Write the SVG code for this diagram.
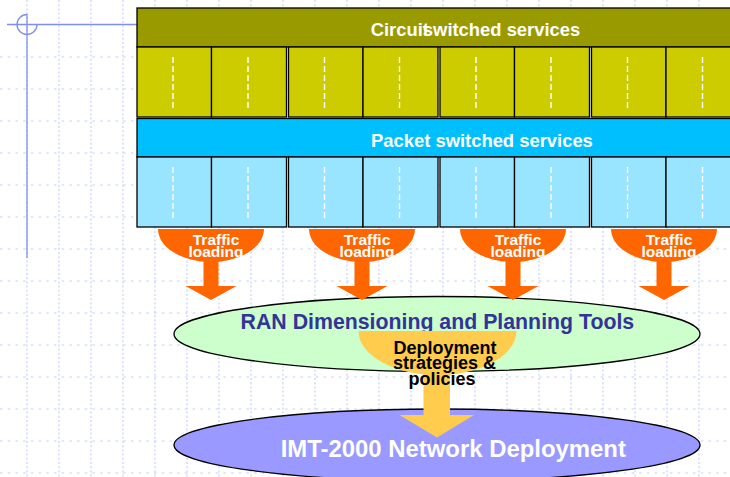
<svg xmlns="http://www.w3.org/2000/svg" width="730" height="477" viewBox="0 0 730 477">
  <defs>
    <style>
      .grid line { stroke: #c5cff8; stroke-width: 1.2; }
      .grid .v { stroke-dasharray: 2 2.2; }
      .grid .h { stroke-dasharray: 2.6 5.1; }
      .guide { stroke: #7f8ff0; stroke-width: 1.3; fill: none; }
      .bar { stroke: #000; stroke-width: 1.3; }
      .cs-bar { fill: #999900; }
      .ps-bar { fill: #00bfff; }
      .cs-cell { fill: #cccc00; stroke: #000; stroke-width: 1.3; }
      .ps-cell { fill: #99e5ff; stroke: #000; stroke-width: 1.3; }
      .slot { stroke: #fff; stroke-width: 1.4; stroke-dasharray: 6 3; }
      .lbl { font-family: "Liberation Sans", Arial, Helvetica, sans-serif; font-weight: bold; }
      .traffic { fill: #ff6600; }
      .policy { fill: #ffcc4d; }
      .ellipse { stroke: #000; stroke-width: 1.3; }
    </style>
    <!-- one carrier: two cells with a dashed slot line in each -->
    <g id="cs-carrier">
      <rect class="cs-cell" x="0" y="0" width="74.5" height="70"/>
      <rect class="cs-cell" x="74.5" y="0" width="75" height="70"/>
      <line class="slot" x1="36" y1="10" x2="36" y2="62"/>
      <line class="slot" x1="111" y1="10" x2="111" y2="62"/>
    </g>
    <g id="ps-carrier">
      <rect class="ps-cell" x="0" y="0" width="74.5" height="70"/>
      <rect class="ps-cell" x="74.5" y="0" width="75" height="70"/>
      <line class="slot" x1="36" y1="10" x2="36" y2="61"/>
      <line class="slot" x1="111" y1="10" x2="111" y2="61"/>
    </g>
    <!-- traffic loading block arrow, centred on x=0 -->
    <g id="traffic-arrow">
      <path class="traffic" d="M-53,229 A53,33 0 0 0 53,229 Z"/>
      <path class="traffic" d="M-7.5,260 H7.5 V286 H25.5 L0,300 L-25.5,286 H-7.5 Z"/>
      <text class="lbl" x="5" y="245" font-size="15.5" fill="#fff" text-anchor="middle">Traffic</text>
      <text class="lbl" x="5" y="257" font-size="15.5" fill="#fff" text-anchor="middle">loading</text>
    </g>
  </defs>

  <rect width="730" height="477" fill="#fff"/>

  <!-- background grid -->
  <g class="grid">
    <line class="v" x1="27" y1="0" x2="27" y2="477"/>
    <line class="v" x1="59" y1="0" x2="59" y2="477"/>
    <line class="v" x1="91" y1="0" x2="91" y2="477"/>
    <line class="v" x1="123" y1="0" x2="123" y2="477"/>
    <line class="v" x1="155" y1="0" x2="155" y2="477"/>
    <line class="v" x1="187" y1="0" x2="187" y2="477"/>
    <line class="v" x1="219" y1="0" x2="219" y2="477"/>
    <line class="v" x1="251" y1="0" x2="251" y2="477"/>
    <line class="v" x1="283" y1="0" x2="283" y2="477"/>
    <line class="v" x1="315" y1="0" x2="315" y2="477"/>
    <line class="v" x1="347" y1="0" x2="347" y2="477"/>
    <line class="v" x1="379" y1="0" x2="379" y2="477"/>
    <line class="v" x1="411" y1="0" x2="411" y2="477"/>
    <line class="v" x1="443" y1="0" x2="443" y2="477"/>
    <line class="v" x1="475" y1="0" x2="475" y2="477"/>
    <line class="v" x1="507" y1="0" x2="507" y2="477"/>
    <line class="v" x1="539" y1="0" x2="539" y2="477"/>
    <line class="v" x1="571" y1="0" x2="571" y2="477"/>
    <line class="v" x1="603" y1="0" x2="603" y2="477"/>
    <line class="v" x1="635" y1="0" x2="635" y2="477"/>
    <line class="v" x1="667" y1="0" x2="667" y2="477"/>
    <line class="v" x1="699" y1="0" x2="699" y2="477"/>
    <line class="h" x1="0" y1="57" x2="730" y2="57"/>
    <line class="h" x1="0" y1="89" x2="730" y2="89"/>
    <line class="h" x1="0" y1="121" x2="730" y2="121"/>
    <line class="h" x1="0" y1="153" x2="730" y2="153"/>
    <line class="h" x1="0" y1="185" x2="730" y2="185"/>
    <line class="h" x1="0" y1="217" x2="730" y2="217"/>
    <line class="h" x1="0" y1="249" x2="730" y2="249"/>
    <line class="h" x1="0" y1="281" x2="730" y2="281"/>
    <line class="h" x1="0" y1="313" x2="730" y2="313"/>
    <line class="h" x1="0" y1="345" x2="730" y2="345"/>
    <line class="h" x1="0" y1="377" x2="730" y2="377"/>
    <line class="h" x1="0" y1="409" x2="730" y2="409"/>
    <line class="h" x1="0" y1="441" x2="730" y2="441"/>
    <line class="h" x1="0" y1="473" x2="730" y2="473"/>
  </g>

  <!-- origin guides -->
  <g id="origin-guides">
    <line class="guide" x1="7" y1="24.5" x2="137" y2="24.5"/>
    <line class="guide" x1="27" y1="14" x2="27" y2="258"/>
    <path class="guide" d="M27,14.5 A10,10 0 1 0 37,24.5"/>
  </g>

  <!-- circuit switched layer -->
  <g id="circuit-switched">
    <rect class="bar cs-bar" x="137" y="8" width="600" height="39"/>
    <text class="lbl" x="370.7" y="36" font-size="18.4" fill="#fff">Circuit<tspan dx="-6.1">switched services</tspan></text>
    <use href="#cs-carrier" x="137" y="47"/>
    <use href="#cs-carrier" x="288.5" y="47"/>
    <use href="#cs-carrier" x="440" y="47"/>
    <use href="#cs-carrier" x="591.5" y="47"/>
  </g>

  <!-- packet switched layer -->
  <g id="packet-switched">
    <rect class="bar ps-bar" x="137" y="118.5" width="600" height="38.5"/>
    <text class="lbl" x="371" y="146.5" font-size="18.4" fill="#fff">Packet switched services</text>
    <use href="#ps-carrier" x="137" y="157"/>
    <use href="#ps-carrier" x="288.5" y="157"/>
    <use href="#ps-carrier" x="440" y="157"/>
    <use href="#ps-carrier" x="591.5" y="157"/>
  </g>

  <!-- planning tools -->
  <g id="ran-planning">
    <ellipse class="ellipse" cx="437" cy="334" rx="263" ry="37.5" fill="#ccffcc"/>
    <text class="lbl" x="437.4" y="328.5" font-size="21.3" fill="#333399" text-anchor="middle">RAN Dimensioning and Planning Tools</text>
  </g>

  <!-- network deployment -->
  <g id="network-deployment">
    <ellipse class="ellipse" cx="437" cy="445" rx="263" ry="36" fill="#9999ff"/>
    <text class="lbl" x="280.7" y="457" font-size="23.9" fill="#fff">IMT-2000 Network Deployment</text>
  </g>

  <!-- block arrows between the layers -->
  <g id="connectors">
    <use href="#traffic-arrow" x="211" y="0"/>
    <use href="#traffic-arrow" x="362" y="0"/>
    <use href="#traffic-arrow" x="513" y="0"/>
    <use href="#traffic-arrow" x="664" y="0"/>
    <g id="deployment-arrow">
      <path class="policy" d="M358.5,331 A79,44 0 0 0 516.5,331 Z"/>
      <path class="policy" d="M423.5,373 H450 V415 H474 L437,437.5 L399.5,415 H423.5 Z"/>
      <text class="lbl" x="445" y="353.5" font-size="18" fill="#000" text-anchor="middle">Deployment</text>
      <text class="lbl" x="444.5" y="369" font-size="18" fill="#000" text-anchor="middle">strategies &amp;</text>
      <text class="lbl" x="442" y="385" font-size="18" fill="#000" text-anchor="middle">policies</text>
    </g>
  </g>
</svg>
